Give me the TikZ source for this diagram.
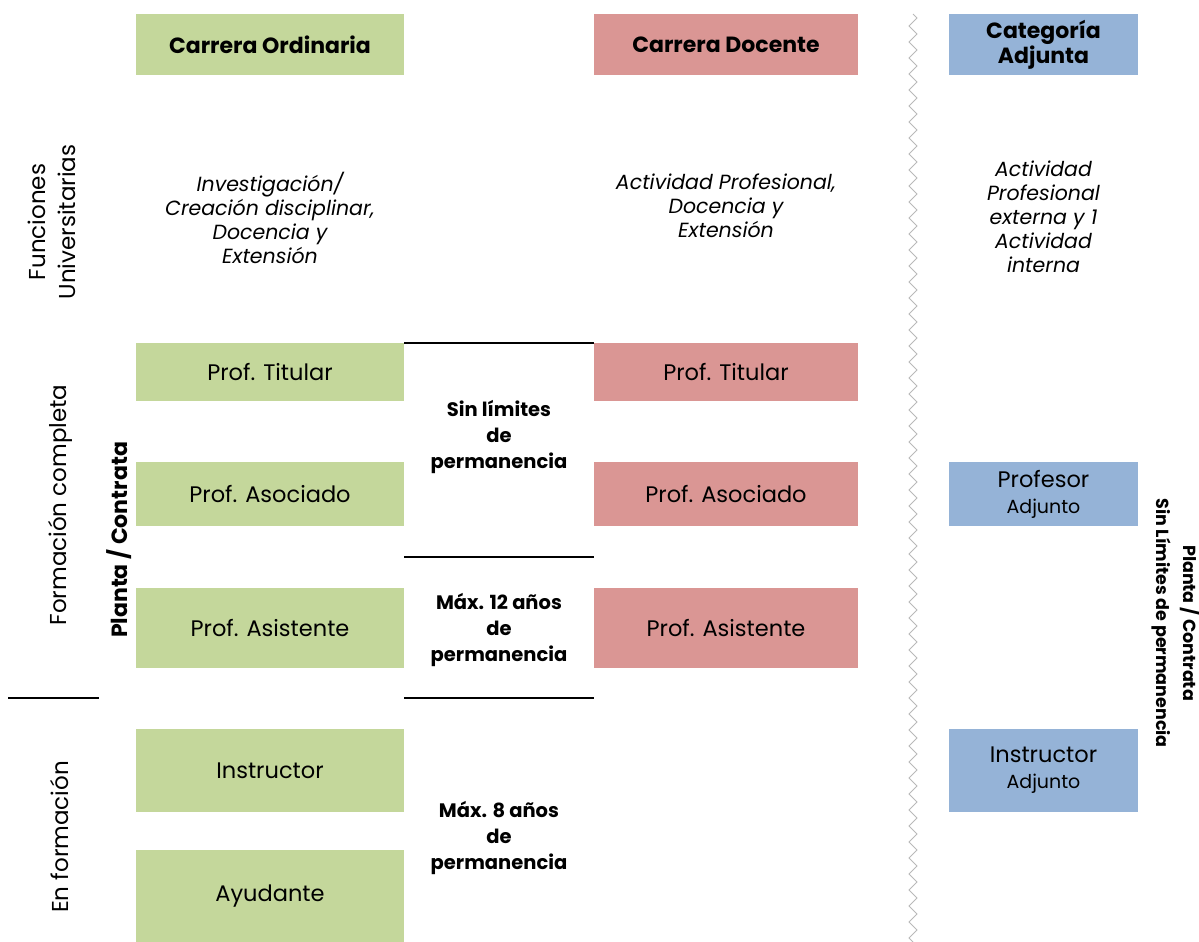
\documentclass[tikz,border=0pt]{standalone}
\usepackage{fontspec}
\setmainfont{Poppins}
\usetikzlibrary{decorations.pathmorphing}
\definecolor{ordg}{HTML}{C4D79B}
\definecolor{docr}{HTML}{DA9694}
\definecolor{adjb}{HTML}{95B3D7}
\begin{document}
\begin{tikzpicture}[x=1pt,y=-1pt,
  cell/.style={inner sep=0pt,align=center,font=\fontsize{22.5}{26}\selectfont},
  gbox/.style={cell,fill=ordg,minimum width=268pt},
  rbox/.style={cell,fill=docr,minimum width=264pt},
  bbox/.style={cell,fill=adjb,minimum width=189pt},
  head/.style={font=\fontsize{22}{24}\selectfont\bfseries},
  func/.style={inner sep=0pt,align=center,font=\fontsize{20.5}{24}\selectfont\itshape},
  mid/.style={inner sep=0pt,align=center,font=\fontsize{19.5}{26}\selectfont\bfseries},
  side/.style={inner sep=0pt,align=center,rotate=90,font=\fontsize{23}{30}\selectfont},
  sep/.style={line width=1.8pt,black}]
\useasboundingbox (0,0) rectangle (1199,942);
% column headers
\node[gbox,head,minimum height=61pt] (hg) at (270,44.5) {Carrera Ordinaria};
\node[rbox,head,minimum height=61pt] (hr) at (726,44.5) {Carrera Docente};
\node[bbox,minimum height=61pt,font=\fontsize{22}{23}\selectfont\bfseries] (hb) at (1043.5,44.5) {Categoría\\Adjunta};
% university functions
\node[func] (fg) at (270,218) {Investigación/\\Creación disciplinar,\\Docencia y\\Extensión};
\node[func] (fr) at (726,206) {Actividad Profesional,\\Docencia y\\Extensión};
\node[func] (fb) at (1043.5,217) {Actividad\\Profesional\\externa y 1\\Actividad\\interna};
% ranks
\node[gbox,minimum height=58pt] (titg) at (270,372) {Prof. Titular};
\node[rbox,minimum height=58pt] (titr) at (726,372) {Prof. Titular};
\node[gbox,minimum height=64pt] (asog) at (270,494) {Prof. Asociado};
\node[rbox,minimum height=64pt] (asor) at (726,494) {Prof. Asociado};
\node[bbox,minimum height=64pt,font=\fontsize{22.5}{26}\selectfont] (asob) at (1043.5,494) {Profesor\\{\fontsize{19}{20}\selectfont Adjunto}};
\node[gbox,minimum height=80pt] (asig) at (270,628) {Prof. Asistente};
\node[rbox,minimum height=80pt] (asir) at (726,628) {Prof. Asistente};
\node[gbox,minimum height=83pt] (insg) at (270,770.5) {Instructor};
\node[bbox,minimum height=83pt,font=\fontsize{22.5}{26}\selectfont] (insb) at (1043.5,770.5) {Instructor\\{\fontsize{19}{20}\selectfont Adjunto}};
\node[gbox,minimum height=92pt] (ayug) at (270,896) {Ayudante};
% permanence limits
\node[mid] (p1) at (499,437) {Sin límites\\de\\permanencia};
\node[mid] (p2) at (499,630) {Máx. 12 años\\de\\permanencia};
\node[mid] (p3) at (499,838) {Máx. 8 años\\de\\permanencia};
% separators between permanence groups
\coordinate (s2l) at (404,557);
\coordinate (s2r) at (594,557);
\coordinate (s3l) at (404,698);
\coordinate (s3r) at (594,698);
\coordinate (s4l) at (8,698);
\coordinate (s4r) at (99,698);
\draw[sep] (titg.north east) -- (titr.north west);
\draw[sep] (s2l) -- (s2r);
\draw[sep] (s3l) -- (s3r);
\draw[sep] (s4l) -- (s4r);
% row labels
\node[side] (lf) at (52,222) {Funciones\\Universitarias};
\node[side] (lc) at (60,505) {Formación completa};
\node[side] (le) at (60,837) {En formación};
\node[side,font=\fontsize{22}{24}\selectfont\bfseries] (lp) at (119,540) {Planta / Contrata};
\node[inner sep=0pt,align=center,rotate=-90,font=\fontsize{17.5}{27}\selectfont\bfseries] (rp) at (1176,623) {Planta / Contrata\\Sin Límites de permanencia};
% wavy divider before the adjunct column
\coordinate (wt) at (913,14);
\coordinate (wb) at (913,942);
\draw[gray!55,line width=0.8pt,decorate,decoration={zigzag,segment length=16pt,amplitude=4pt}] (wt) -- (wb);
\end{tikzpicture}
\end{document}
